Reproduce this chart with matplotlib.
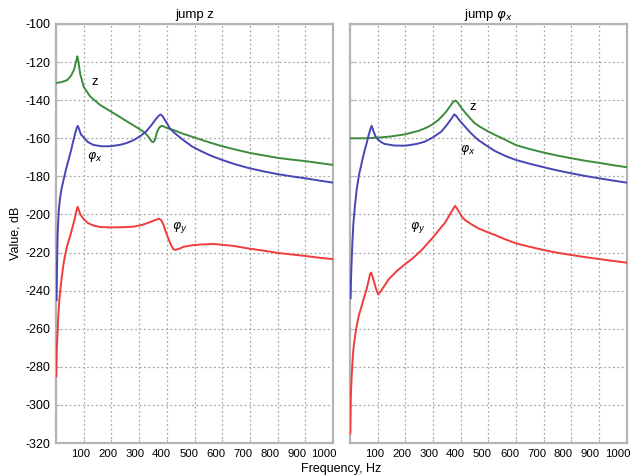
import matplotlib
matplotlib.use("Agg")
import matplotlib.pyplot as plt
import matplotlib.transforms as mtransforms

plt.rcParams['font.family'] = ['Liberation Sans', 'DejaVu Sans']
plt.rcParams['mathtext.fontset'] = 'dejavusans'
plt.rcParams['axes.unicode_minus'] = False

# ---- data: panel "jump z" ----
z1_f = [0, 20, 40, 55, 65, 72, 77, 80, 87, 100, 123, 159, 219, 260, 303, 320, 335, 346, 352, 358, 364, 372, 380, 388, 400, 430, 450, 500, 550, 600, 650, 700, 750, 800, 850, 900, 950, 1000]
z1_v = [-131, -130.5, -129.5, -127, -124, -120, -117, -119, -126, -133, -138, -142.5, -147.8, -151.5, -155.3, -157, -159.5, -161.8, -162, -160.5, -157, -154.5, -153.5, -153.7, -154.6, -156, -157.2, -159.6, -162, -164.2, -166, -167.7, -169, -170.3, -171.2, -172, -173, -174]

px1_f = [2, 4, 6, 10, 14, 20, 27, 35, 45, 55, 63, 70, 75, 79, 84, 90, 100, 115, 135, 165, 195, 230, 255, 280, 303, 325, 345, 360, 372, 378, 385, 400, 412, 430, 460, 490, 520, 560, 600, 650, 700, 750, 800, 850, 900, 950, 1000]
px1_v = [-245, -225, -210, -198, -192, -186.5, -182, -177, -171.5, -166, -161, -157, -154.5, -153.5, -155.5, -158, -159.5, -162, -163.5, -164.2, -164.2, -163.5, -162.5, -161, -159, -156.5, -153, -150, -148, -147.5, -148.5, -152, -155, -157.5, -161, -164.2, -166.5, -169.2, -171.4, -173.8, -175.8, -177.4, -178.8, -180, -181, -182.2, -183.3]

py1_f = [1, 3, 5, 8, 12, 16, 20, 26, 32, 40, 51, 60, 68, 74, 78, 82, 88, 100, 115, 135, 160, 195, 240, 280, 310, 340, 360, 372, 380, 388, 395, 405, 415, 424, 432, 445, 460, 490, 520, 570, 640, 700, 750, 800, 850, 900, 950, 1000]
py1_v = [-285, -270, -264, -254, -245, -239, -234, -227, -222, -216.5, -211.3, -206.5, -202, -198, -196, -197.5, -200, -202.5, -204.5, -205.8, -206.6, -206.8, -206.7, -206.4, -205.5, -204, -202.8, -202.2, -203, -205.5, -208.5, -212.5, -216, -218.3, -218.6, -218, -217, -216.2, -215.8, -215.5, -216.5, -218, -219, -220.2, -221, -221.8, -222.7, -223.5]

# ---- data: panel "jump phi_x" ----
z2_f = [0, 50, 100, 150, 200, 250, 283, 300, 320, 335, 345, 355, 365, 372, 380, 388, 395, 405, 420, 434, 450, 470, 500, 525, 550, 600, 650, 700, 750, 800, 850, 900, 950, 1000]
z2_v = [-160, -160, -159.7, -159, -157.9, -156, -154, -152.5, -150.3, -148, -146.5, -144.5, -142.5, -141, -140.2, -141, -142.5, -144.5, -147.2, -149.5, -152, -154, -156.5, -158.3, -160, -163.6, -165.7, -167.5, -169.1, -170.5, -171.8, -172.9, -174.1, -175.2]

px2_f = [2, 4, 6, 9, 12, 18, 24, 32, 42, 50, 60, 67, 73, 78, 84, 92, 100, 115, 126, 160, 200, 240, 270, 300, 330, 350, 365, 377, 385, 395, 416, 440, 464, 495, 524, 560, 600, 650, 700, 750, 800, 850, 900, 950, 1000]
px2_v = [-244, -232, -224, -213, -205, -195, -187, -179.5, -173, -168, -162.6, -158.5, -155.5, -153.4, -156, -159, -160.5, -162.3, -163, -163.8, -163.9, -163, -161.8, -159.5, -156.5, -153, -150, -147.4, -148.5, -150.5, -154, -157.8, -161, -164, -166.7, -169.2, -171.4, -173.4, -175.2, -176.9, -178.4, -179.8, -181, -182.2, -183.3]

py2_f = [1, 2, 3, 6, 9, 12, 18, 24, 32, 42, 50, 60, 66, 72, 76, 80, 88, 96, 102, 110, 120, 140, 169, 200, 229, 260, 300, 325, 343, 355, 365, 373, 380, 387, 395, 405, 416, 440, 464, 495, 524, 560, 600, 650, 700, 750, 800, 850, 900, 950, 1000]
py2_v = [-315, -305, -295, -285, -277, -271, -264, -258.5, -253, -248, -244, -239.3, -235.5, -231.5, -230.5, -232, -236, -240, -242, -240.5, -238.4, -234, -229.7, -226, -222.7, -218.5, -212, -207.5, -204.4, -201.5, -199, -197, -195.5, -197, -199, -201.3, -203, -205.3, -207.3, -209.2, -210.8, -213, -215.2, -217, -218.7, -220.1, -221.3, -222.4, -223.4, -224.4, -225.3]

titles = ['jump z', r'jump $\varphi_x$']
xticks = [100, 200, 300, 400, 500, 600, 700, 800, 900, 1000]
yticks = [-100, -120, -140, -160, -180, -200, -220, -240, -260, -280, -300, -320]

GREEN = '#3c8c3c'
BLUE = '#4646b4'
RED = '#f03c3c'
SPINE = '#b4b4b4'
GRID = '#a8a8a8'

fig = plt.figure(figsize=(6.3, 4.76), dpi=100)
ax1 = fig.add_axes([0.0889, 0.0693, 0.4397, 0.8803])
ax2 = fig.add_axes([0.5556, 0.0693, 0.4392, 0.8803], sharey=ax1)

panels = [
    (ax1, (z1_f, z1_v), (px1_f, px1_v), (py1_f, py1_v)),
    (ax2, (z2_f, z2_v), (px2_f, px2_v), (py2_f, py2_v)),
]

for i, (ax, z, px, py) in enumerate(panels):
    ax.plot(z[0], z[1], color=GREEN, lw=1.4, zorder=3)
    ax.plot(px[0], px[1], color=BLUE, lw=1.4, zorder=3)
    ax.plot(py[0], py[1], color=RED, lw=1.4, zorder=3)
    ax.set_xlim(0, 1000)
    ax.set_ylim(-320, -100)
    ax.set_xticks(xticks)
    ax.set_yticks(yticks)
    ax.grid(True, linestyle=(0, (1.5, 2)), color=GRID, lw=0.9)
    for s in ax.spines.values():
        s.set_color(SPINE)
        s.set_linewidth(1.6)
    ax.tick_params(direction='in', length=3, color=SPINE, labelsize=9, pad=4)
    ax.tick_params(axis='x', labelsize=8.2)
    ax.set_title(titles[i], fontsize=9.5, pad=4)
    # x tick labels drift slightly left as in reference
    for k, lab in enumerate(ax.get_xticklabels()):
        off = mtransforms.ScaledTranslation((-3 - 0.7 * k) / 100, 0, fig.dpi_scale_trans)
        lab.set_transform(lab.get_transform() + off)

plt.setp(ax2.get_yticklabels(), visible=False)
ax1.set_ylabel('Value, dB', fontsize=9, labelpad=3)
fig.text(0.542, 0.003, 'Frequency, Hz', ha='center', va='bottom', fontsize=9)

# curve labels
ax1.text(141, -130.5, 'z', fontsize=9.5, ha='center', va='center')
ax1.text(141, -169.8, r'$\varphi_x$', fontsize=9, ha='center', va='center')
ax1.text(448, -207, r'$\varphi_y$', fontsize=9, ha='center', va='center')
ax2.text(444, -143.6, 'z', fontsize=9.5, ha='center', va='center')
ax2.text(426, -166, r'$\varphi_x$', fontsize=9, ha='center', va='center')
ax2.text(246, -207, r'$\varphi_y$', fontsize=9, ha='center', va='center')

fig.savefig('out.png', dpi=100)
